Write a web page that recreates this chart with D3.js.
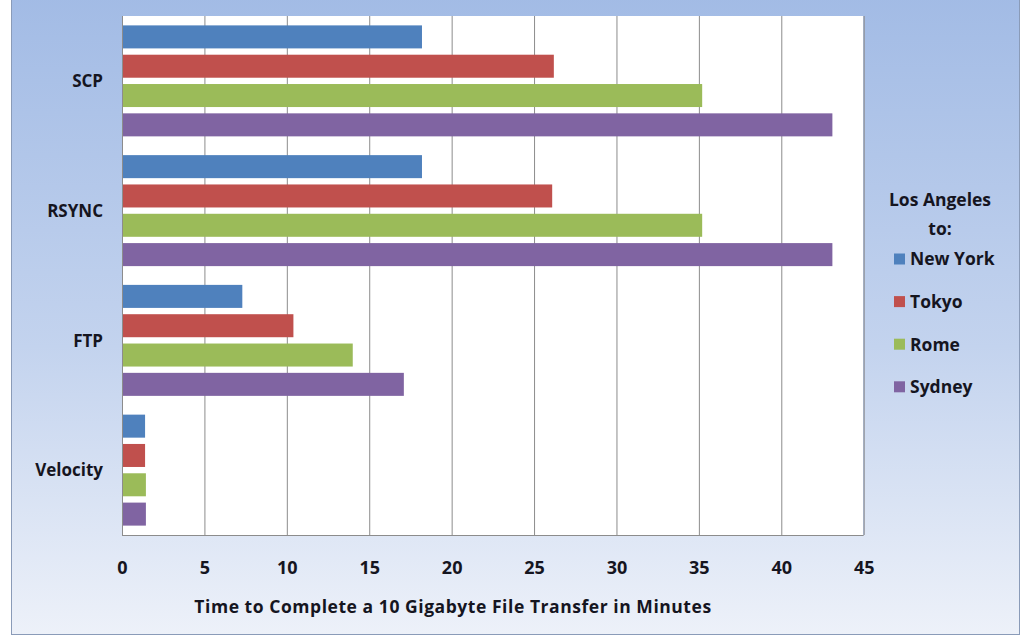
<!DOCTYPE html>
<html><head><meta charset="utf-8">
<script src="https://cdn.jsdelivr.net/npm/d3@7"></script>
<style>body{margin:0;background:#fff}svg{display:block}</style>
</head><body>
<svg id="c" width="1026" height="637"></svg>
<script>
const categories = ["SCP", "RSYNC", "FTP", "Velocity"];
const series = ["New York", "Tokyo", "Rome", "Sydney"];
const newYork = [18.2, 18.2, 7.3, 1.4];
const tokyo   = [26.2, 26.1, 10.4, 1.4];
const rome    = [35.2, 35.2, 14.0, 1.45];
const sydney  = [43.1, 43.1, 17.1, 1.45];
const colors  = ["#4F81BD", "#C0504D", "#9BBB59", "#8064A2"];
const xTicks  = [0, 5, 10, 15, 20, 25, 30, 35, 40, 45];
const xTitle  = "Time to Complete a 10 Gigabyte File Transfer in Minutes";
const legendTitle = ["Los Angeles", "to:"];

const values = [newYork, tokyo, rome, sydney];
const font = "'Open Sans', sans-serif";
const ink = "#15151f";
const svg = d3.select("#c");

// background gradient
const defs = svg.append("defs");
const g = defs.append("linearGradient").attr("id","bg").attr("x1",0).attr("y1",0).attr("x2",0).attr("y2",1);
g.append("stop").attr("offset","0%").attr("stop-color","#a2bbe5");
g.append("stop").attr("offset","55%").attr("stop-color","#c3d3ee");
g.append("stop").attr("offset","100%").attr("stop-color","#edf1f9");
svg.append("rect").attr("x",0).attr("y",0).attr("width",1026).attr("height",637).attr("fill","#ffffff");
svg.append("rect").attr("x",11.5).attr("y",-5).attr("width",1008).attr("height",639.5)
  .attr("fill","url(#bg)").attr("stroke","#8a9bb8").attr("stroke-width",1);

const L = 122, R = 863.7, T = 16, B = 535;
const x = d3.scaleLinear().domain([0,45]).range([L,R]);
const y = d3.scaleBand().domain(categories).range([T,B]).padding(0);
const yi = d3.scaleBand().domain(series).range([0,y.bandwidth()]).paddingInner(0.215).paddingOuter(0.32);

svg.append("rect").attr("x",L).attr("y",T).attr("width",R-L).attr("height",B-T).attr("fill","#fff");

// gridlines
svg.append("g").selectAll("line").data(xTicks.slice(1)).join("line")
  .attr("x1",d=>x(d)+0.5).attr("x2",d=>x(d)+0.5).attr("y1",T).attr("y2",B)
  .attr("stroke","#8c8c8c").attr("stroke-width",1);

// bars
const grp = svg.append("g").selectAll("g").data(categories).join("g")
  .attr("transform",c=>`translate(0,${y(c)})`);
grp.selectAll("rect").data((c,ci)=>series.map((s,si)=>({s,si,v:values[si][ci]}))).join("rect")
  .attr("x",x(0)).attr("y",d=>yi(d.s)).attr("height",yi.bandwidth())
  .attr("width",d=>x(d.v)-x(0)).attr("fill",d=>colors[d.si]);

// axis lines
svg.append("line").attr("x1",L+0.5).attr("x2",L+0.5).attr("y1",T).attr("y2",B).attr("stroke","#8c8c8c");
svg.append("line").attr("x1",L).attr("x2",R).attr("y1",B+0.5).attr("y2",B+0.5).attr("stroke","#8c8c8c");
svg.append("line").attr("x1",R).attr("x2",R).attr("y1",T).attr("y2",B).attr("stroke","#9aa6bb");

// x axis via d3 axis
const xAxis = d3.axisBottom(x).tickValues(xTicks).tickSize(0).tickPadding(0).tickFormat(d3.format("d"));
const xa = svg.append("g").attr("transform",`translate(0,${B})`).call(xAxis);
xa.select(".domain").remove();
xa.selectAll("text").attr("y",39).attr("dy",null)
  .attr("font-family",font).attr("font-weight","bold").attr("font-size",18).attr("fill",ink);

// y axis
const yAxis = d3.axisLeft(y).tickSize(0).tickPadding(0);
const ya = svg.append("g").attr("transform",`translate(${L},0)`).call(yAxis);
ya.select(".domain").remove();
ya.selectAll("text").attr("x",-19).attr("dy","0.36em")
  .attr("font-family",font).attr("font-weight","bold").attr("font-size",17).attr("fill",ink);

// x title
svg.append("text").attr("x",453).attr("y",613).attr("text-anchor","middle")
  .attr("letter-spacing",0.55)
  .attr("font-family",font).attr("font-weight","bold").attr("font-size",17.5).attr("fill",ink).text(xTitle);

// legend
const lg = svg.append("g");
lg.selectAll("text.t").data(legendTitle).join("text").attr("class","t")
  .attr("x",940).attr("y",(d,i)=>205.5+i*29.5).attr("text-anchor","middle")
  .attr("font-family",font).attr("font-weight","bold").attr("font-size",17.5).attr("fill",ink).text(d=>d);
const items = lg.selectAll("g.i").data(series).join("g").attr("class","i")
  .attr("transform",(d,i)=>`translate(894,${259+i*42.6})`);
items.append("rect").attr("x",0).attr("y",-5.5).attr("width",11).attr("height",11).attr("fill",(d,i)=>colors[i]);
items.append("text").attr("x",16).attr("y",6.3)
  .attr("font-family",font).attr("font-weight","bold").attr("font-size",17.5).attr("fill",ink).text(d=>d);
</script>
</body></html>
